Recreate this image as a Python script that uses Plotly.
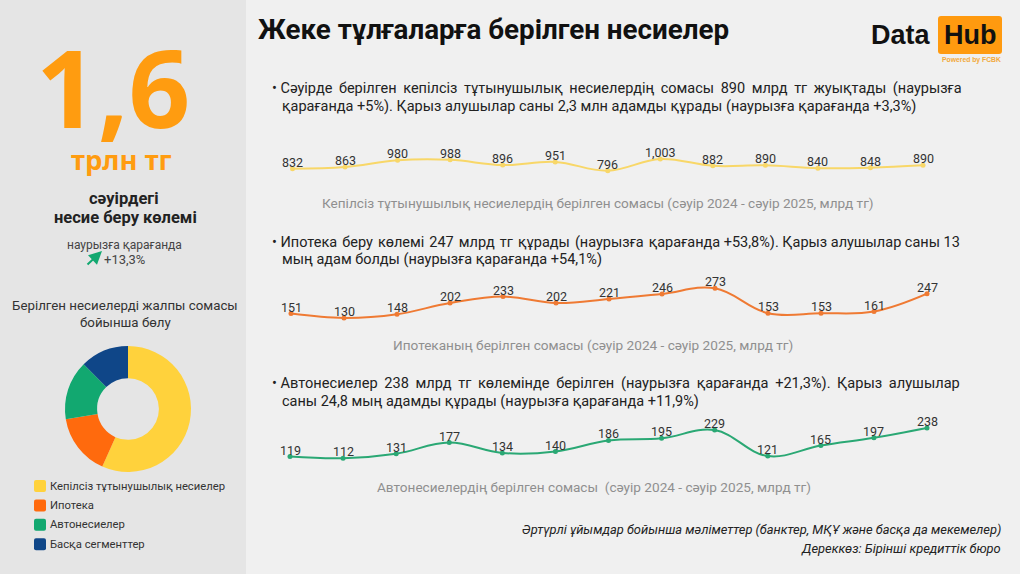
import plotly.graph_objects as go

W, H = 1020, 574

months = ["сәу 24", "мам 24", "мау 24", "шіл 24", "там 24", "қыр 24", "қаз 24",
          "қар 24", "жел 24", "қаң 25", "ақп 25", "нау 25", "сәу 25"]
unsecured = [832, 863, 980, 988, 896, 951, 796, 1003, 882, 890, 840, 848, 890]
mortgage = [151, 130, 148, 202, 233, 202, 221, 246, 273, 153, 153, 161, 247]
auto = [119, 112, 131, 177, 134, 140, 186, 195, 229, 121, 165, 197, 238]

segments = ["Кепілсіз тұтынушылық несиелер", "Ипотека", "Автонесиелер", "Басқа сегменттер"]
segment_values = [890, 247, 238, 195]
segment_colors = ["#ffd23c", "#ff6a0d", "#12a870", "#0f4688"]

THIN = "\u2009"
HAIR = "\u200a"


def px(x):
    return x / W


def py(y):
    return 1 - y / H


def label(x, y, text, size=14, color="#222222", font="Roboto", anchor="left", valign="middle"):
    return dict(x=px(x), y=py(y), xref="paper", yref="paper", text=text, showarrow=False,
                xanchor=anchor, yanchor=valign, align=anchor,
                font=dict(size=size, color=color, family=font))


def justify(text, filler, count=-1):
    # the first lines of the reference paragraphs are stretched to the right edge
    return "• " + text.replace(" ", " " + filler, count)


def round_box(x0, y0, x1, y1, r, color):
    path = (f"M{px(x0 + r)},{py(y0)} L{px(x1 - r)},{py(y0)} Q{px(x1)},{py(y0)} {px(x1)},{py(y0 + r)} "
            f"L{px(x1)},{py(y1 - r)} Q{px(x1)},{py(y1)} {px(x1 - r)},{py(y1)} L{px(x0 + r)},{py(y1)} "
            f"Q{px(x0)},{py(y1)} {px(x0)},{py(y1 - r)} L{px(x0)},{py(y0 + r)} Q{px(x0)},{py(y0)} {px(x0 + r)},{py(y0)} Z")
    return dict(type="path", xref="paper", yref="paper", path=path, fillcolor=color, line=dict(width=0))


def line_trace(values, color, xaxis, yaxis):
    return go.Scatter(
        x=months, y=values, xaxis=xaxis, yaxis=yaxis,
        mode="lines+markers",
        line=dict(color=color, width=2, shape="spline", smoothing=1.1),
        marker=dict(color=color, size=5),
        cliponaxis=False,
        hoverinfo="x+y",
    )


def value_labels(values, xaxis, yaxis):
    return [dict(x=m, y=v, xref=xaxis, yref=yaxis, text=f"{v:,}", showarrow=False,
                 yshift=6.5, font=dict(size=12.5, color="#333333", family="Roboto"))
            for m, v in zip(months, values)]


fig = go.Figure()
fig.add_trace(line_trace(unsecured, "#f8d768", "x", "y"))
fig.add_trace(line_trace(mortgage, "#ef7a33", "x2", "y2"))
fig.add_trace(line_trace(auto, "#2aa874", "x3", "y3"))

fig.add_trace(go.Pie(
    labels=segments, values=segment_values, hole=0.49, sort=False, direction="clockwise",
    rotation=0, marker=dict(colors=segment_colors, line=dict(width=0)),
    textinfo="none", showlegend=False,
    domain=dict(x=[px(65), px(191)], y=[py(472), py(346)]),
))

# hidden axes, each one placed on its own band of the page
axis_off = dict(visible=False, fixedrange=True)
fig.update_layout(
    xaxis=dict(domain=[px(292.5), px(923)], range=[0, 12], **axis_off),
    yaxis=dict(domain=[py(180), py(150)], range=[631, 1162], **axis_off),
    xaxis2=dict(domain=[px(291), px(927)], range=[0, 12], anchor="y2", **axis_off),
    yaxis2=dict(domain=[py(325), py(280)], range=[96, 313], anchor="x2", **axis_off),
    xaxis3=dict(domain=[px(290), px(927)], range=[0, 12], anchor="y3", **axis_off),
    yaxis3=dict(domain=[py(465), py(420)], range=[84, 271], anchor="x3", **axis_off),
)

shapes = [
    dict(type="rect", xref="paper", yref="paper", x0=0, x1=px(246), y0=0, y1=1,
         fillcolor="#e5e5e5", line=dict(width=0), layer="below"),
    round_box(938, 16, 1002, 54, 3, "#ff9a0f"),
]

annotations = [
    label(256, 29, "<b>Жеке тұлғаларға берілген несиелер</b>", size=27.8, color="#111111"),
    label(933, 35, "<b>Data</b>", size=27, color="#111111", font="Liberation Sans", anchor="right"),
    label(970, 35, "<b>Hub</b>", size=27, color="#111111", font="Liberation Sans", anchor="center"),
    label(971, 60, "<b>Powered by FCBK</b>", size=6.8, color="#f2a93b", font="Liberation Sans", anchor="center"),

    label(113, 86, "<b>1,6</b>", size=108, color="#ff9c10", font="Noto Sans", anchor="center"),
    label(121, 160, "<b>трлн тг</b>", size=27.5, color="#ff9c10", font="Noto Sans", anchor="center"),
    label(124, 198, "<b>сәуірдегі</b>", size=16.5, color="#222222", anchor="center"),
    label(125, 217.5, "<b>несие беру көлемі</b>", size=16.5, color="#222222", anchor="center"),
    label(124, 245, "наурызға қарағанда", size=12, color="#444444", anchor="center"),
    label(124.5, 259, "+13,3%", size=13, color="#444444", anchor="center"),
    label(125, 305.5, "Берілген несиелерді жалпы сомасы", size=13.3, color="#333333", anchor="center"),
    label(125, 322, "бойынша бөлу", size=13.3, color="#333333", anchor="center"),

    label(270, 88.3, justify("Сәуірде берілген кепілсіз тұтынушылық несиелердің сомасы 890 млрд тг жуықтады (наурызға", THIN), size=14.5),
    label(280, 106, "қарағанда +5%). Қарыз алушылар саны 2,3 млн адамды құрады (наурызға қарағанда +3,3%)", size=14.5),
    label(270, 242, justify("Ипотека беру көлемі 247 млрд тг құрады (наурызға қарағанда +53,8%). Қарыз алушылар саны 13", HAIR, 8), size=14.5),
    label(280, 259.7, "мың адам болды (наурызға қарағанда +54,1%)", size=14.5),
    label(270, 383.3, justify("Автонесиелер 238 млрд тг көлемінде берілген (наурызға қарағанда +21,3%). Қарыз алушылар", THIN), size=14.6),
    label(280, 401, "саны 24,8 мың адамды құрады (наурызға қарағанда +11,9%)", size=14.5),

    label(598, 203, "Кепілсіз тұтынушылық несиелердің берілген сомасы (сәуір 2024 - сәуір 2025, млрд тг)",
          size=13.6, color="#8f8f8f", anchor="center"),
    label(593, 345, "Ипотеканың берілген сомасы (сәуір 2024 - сәуір 2025, млрд тг)",
          size=13.6, color="#8f8f8f", anchor="center"),
    label(594, 487, "Автонесиелердің берілген сомасы  (сәуір 2024 - сәуір 2025, млрд тг)",
          size=13.6, color="#8f8f8f", anchor="center"),

    label(1003, 529, "<i>Әртүрлі ұйымдар бойынша мәліметтер (банктер, МҚҰ және басқа да мекемелер)</i>",
          size=12.9, color="#222222", anchor="right"),
    label(1003, 548, "<i>Дереккөз: Бірінші кредиттік бюро</i>", size=12.9, color="#222222", anchor="right"),

    # small rise arrow next to +13,3%
    dict(x=px(102), y=py(251), ax=-16, ay=15, xref="paper", yref="paper",
         axref="pixel", ayref="pixel", text="", showarrow=True, arrowhead=2, arrowsize=1.3,
         arrowwidth=2, arrowcolor="#12a870"),
]

annotations += value_labels(unsecured, "x", "y")
annotations += value_labels(mortgage, "x2", "y2")
annotations += value_labels(auto, "x3", "y3")

# legend of the donut, drawn by hand for the rounded swatches
for i, (name, color) in enumerate(zip(segments, segment_colors)):
    yc = 486 + i * 19.4
    shapes.append(round_box(34, yc - 6, 46, yc + 6, 2, color))
    annotations.append(label(48, yc, name, size=11.25, color="#333333"))

fig.update_layout(
    width=W, height=H,
    margin=dict(l=0, r=0, t=0, b=0),
    paper_bgcolor="#f0f0f0",
    plot_bgcolor="rgba(0,0,0,0)",
    showlegend=False,
    shapes=shapes,
    annotations=annotations,
)

fig.write_html("out.html", config=dict(displayModeBar=False),
               post_script="document.body.style.margin='0';")
